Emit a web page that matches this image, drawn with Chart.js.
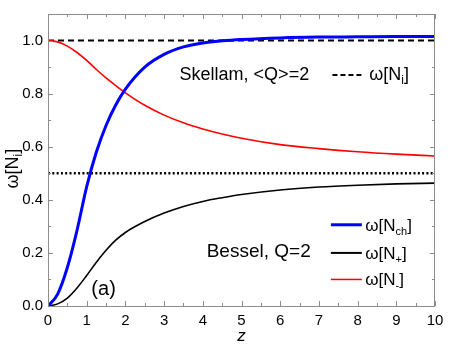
<!DOCTYPE html>
<html>
<head>
<meta charset="utf-8">
<script src="https://cdn.jsdelivr.net/npm/chart.js@4"></script>
<style>
  html, body { margin: 0; padding: 0; background: #fff; }
  #wrap { width: 454px; height: 348px; }
</style>
</head>
<body>
<div id="wrap"><canvas id="chart" width="454" height="348"></canvas></div>
<script>
const zValues = [0, 0.25, 0.5, 0.75, 1, 1.25, 1.5, 1.75, 2, 2.5, 3, 3.5, 4, 4.5, 5, 6, 7, 8, 9, 10];
const omegaNch = [0, 0.045, 0.145, 0.285, 0.45, 0.58, 0.68, 0.757, 0.817, 0.9, 0.948, 0.976, 0.991, 0.999, 1.004, 1.01, 1.013, 1.014, 1.015, 1.015];
const omegaNplus = [0, 0.008, 0.03, 0.068, 0.115, 0.165, 0.21, 0.248, 0.277, 0.318, 0.35, 0.375, 0.394, 0.408, 0.42, 0.437, 0.448, 0.455, 0.46, 0.463];
const omegaNminus = [1.0, 0.995, 0.979, 0.955, 0.925, 0.891, 0.859, 0.83, 0.803, 0.756, 0.719, 0.69, 0.667, 0.648, 0.632, 0.608, 0.593, 0.581, 0.572, 0.565];
const skellamLevel = 1.0;
const halfLevel = 0.5;
const xTicks = [0, 1, 2, 3, 4, 5, 6, 7, 8, 9, 10];
const yTicks = [0, 0.2, 0.4, 0.6, 0.8, 1.0];

const FONT = "'Liberation Sans', Arial, sans-serif";

function toPoints(ys) {
  return zValues.map((z, i) => ({ x: z, y: ys[i] }));
}

function flatLine(level) {
  return [{ x: 0, y: level }, { x: 10, y: level }];
}

// draws "ω[N" + subscript + "]" and returns its width
function drawOmega(ctx, x, y, sub, size) {
  ctx.font = `${size}px ${FONT}`;
  ctx.fillText("ω[N", x, y);
  let w = ctx.measureText("ω[N").width;
  const subSize = Math.round(size * 0.65);
  ctx.font = `${subSize}px ${FONT}`;
  ctx.fillText(sub, x + w, y + size * 0.22);
  w += ctx.measureText(sub).width;
  ctx.font = `${size}px ${FONT}`;
  ctx.fillText("]", x + w, y);
  return w + ctx.measureText("]").width;
}

const framePlugin = {
  id: "frame",
  afterDatasetsDraw(chart) {
    const { ctx, chartArea: a, scales } = chart;
    const sx = scales.x, sy = scales.y;
    ctx.save();
    ctx.strokeStyle = "#8c8c8c";
    ctx.lineWidth = 1;
    ctx.strokeRect(a.left + 0.5, a.top + 0.5, a.right - a.left - 1, a.bottom - a.top);

    ctx.beginPath();
    for (let v = 0; v <= 10.001; v += 0.5) {
      const p = Math.round(sx.getPixelForValue(v)) + 0.5;
      const len = Number.isInteger(v) ? 5 : 3;
      ctx.moveTo(p, a.bottom); ctx.lineTo(p, a.bottom - len);
      ctx.moveTo(p, a.top); ctx.lineTo(p, a.top + len);
    }
    for (let v = 0; v <= 1.1001; v += 0.1) {
      const p = Math.round(sy.getPixelForValue(v)) + 0.5;
      const len = Math.round(v * 10) % 2 === 0 ? 5 : 3;
      ctx.moveTo(a.left, p); ctx.lineTo(a.left + len, p);
      ctx.moveTo(a.right, p); ctx.lineTo(a.right - len, p);
    }
    ctx.stroke();

    // texts and legends
    ctx.fillStyle = "#000";
    ctx.textBaseline = "alphabetic";
    ctx.textAlign = "left";
    const px = (z) => sx.getPixelForValue(z);
    const py = (v) => sy.getPixelForValue(v);

    ctx.font = `18px ${FONT}`;
    ctx.fillText("Skellam, <Q>=2", px(3.4), py(0.85));
    ctx.save();
    ctx.strokeStyle = "#000";
    ctx.lineWidth = 2;
    ctx.setLineDash([5, 3]);
    ctx.beginPath();
    ctx.moveTo(px(7.35), py(0.87));
    ctx.lineTo(px(8.1), py(0.87));
    ctx.stroke();
    ctx.restore();
    drawOmega(ctx, px(8.3), py(0.85), "i", 18);

    ctx.font = `19px ${FONT}`;
    ctx.fillText("Bessel, Q=2", px(4.1), py(0.184));
    ctx.font = `20px ${FONT}`;
    ctx.fillText("(a)", px(1.12), py(0.04));

    const legend = [
      { color: "#0000ff", width: 3, level: 0.306, sub: "ch" },
      { color: "#000000", width: 2, level: 0.2, sub: "+" },
      { color: "#ff0000", width: 1.5, level: 0.1, sub: "-" },
    ];
    legend.forEach((item) => {
      ctx.strokeStyle = item.color;
      ctx.lineWidth = item.width;
      ctx.beginPath();
      ctx.moveTo(px(7.31), py(item.level));
      ctx.lineTo(px(8.11), py(item.level));
      ctx.stroke();
      drawOmega(ctx, px(8.2), py(item.level) + 6, item.sub, 17);
    });

    // y axis title
    ctx.save();
    ctx.translate(18, 167);
    ctx.rotate(-Math.PI / 2);
    ctx.textAlign = "left";
    ctx.font = `18px ${FONT}`;
    const tw = ctx.measureText("ω[N]").width + 6;
    drawOmega(ctx, -tw / 2, 0, "i", 18);
    ctx.restore();

    ctx.restore();
  },
};

new Chart(document.getElementById("chart"), {
  type: "line",
  data: {
    datasets: [
      {
        label: "ω[Nch]",
        data: toPoints(omegaNch),
        borderColor: "#0000ff",
        borderWidth: 3,
        cubicInterpolationMode: "monotone",
      },
      {
        label: "ω[N+]",
        data: toPoints(omegaNplus),
        borderColor: "#000000",
        borderWidth: 1.6,
        cubicInterpolationMode: "monotone",
      },
      {
        label: "ω[N-]",
        data: toPoints(omegaNminus),
        borderColor: "#ff0000",
        borderWidth: 1.6,
        cubicInterpolationMode: "monotone",
      },
      {
        label: "ω[Ni]",
        data: flatLine(skellamLevel),
        borderColor: "#000000",
        borderWidth: 2,
        borderDash: [6, 4],
      },
      {
        label: "half",
        data: flatLine(halfLevel),
        borderColor: "#000000",
        borderWidth: 2.5,
        borderDash: [2, 2.3],
      },
    ],
  },
  options: {
    responsive: false,
    animation: false,
    devicePixelRatio: 1,
    elements: { point: { radius: 0 } },
    layout: { padding: { left: 0, top: 12, right: 19, bottom: 0 } },
    plugins: { legend: { display: false }, tooltip: { enabled: false } },
    scales: {
      x: {
        type: "linear",
        min: 0,
        max: 10,
        afterFit: (s) => { s.height = 42; },
        afterBuildTicks: (s) => { s.ticks = xTicks.map((v) => ({ value: v })); },
        grid: { display: false, drawTicks: false },
        border: { display: false },
        ticks: { color: "#000", font: { family: FONT, size: 15 }, padding: 6 },
        title: {
          display: true,
          text: "z",
          color: "#000",
          font: { family: FONT, size: 17, style: "italic" },
          padding: { top: 0, bottom: 2 },
        },
      },
      y: {
        min: 0,
        max: 1.1,
        afterFit: (s) => { s.width = 48; },
        afterBuildTicks: (s) => { s.ticks = yTicks.map((v) => ({ value: v })); },
        grid: { display: false, drawTicks: false },
        border: { display: false },
        ticks: {
          color: "#000",
          font: { family: FONT, size: 15 },
          padding: 5,
          callback: (v) => v.toFixed(1),
        },
      },
    },
  },
  plugins: [framePlugin],
});
</script>
</body>
</html>
